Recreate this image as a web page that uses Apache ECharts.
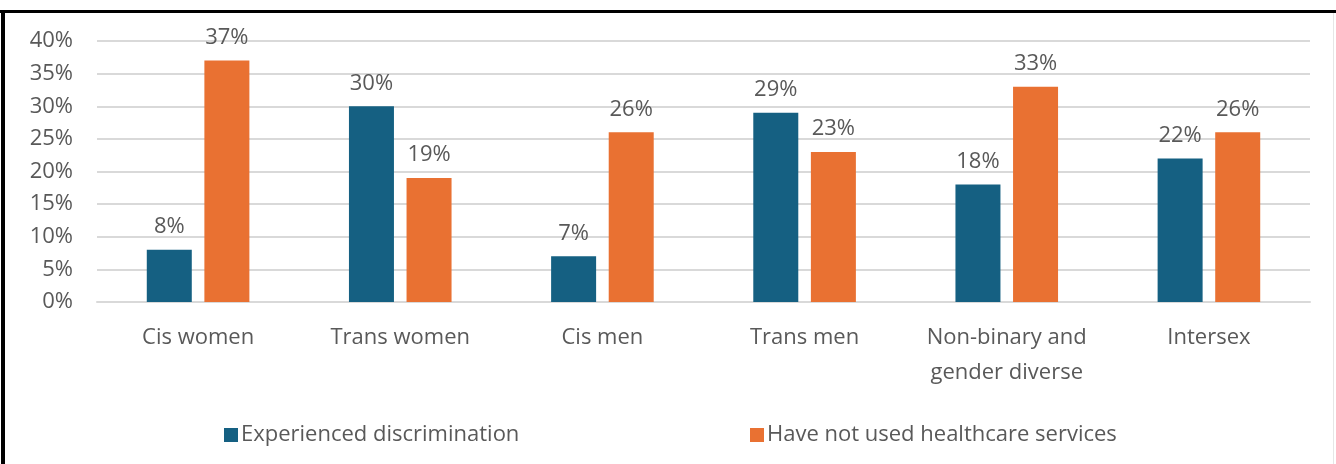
<!DOCTYPE html>
<html>
<head>
<meta charset="utf-8">
<script src="https://cdn.jsdelivr.net/npm/echarts@6/dist/echarts.min.js"></script>
<style>
html,body{margin:0;padding:0;background:#fff;}
#c{width:1336px;height:464px;}
</style>
</head>
<body>
<div id="c"></div>
<script>
const categories = ['Cis women', 'Trans women', 'Cis men', 'Trans men', 'Non-binary and\ngender diverse', 'Intersex'];
const seriesNames = ['Experienced discrimination', 'Have not used healthcare services'];
const experienced = [8, 30, 7, 29, 18, 22];
const notUsed = [37, 19, 26, 23, 33, 26];
const yMin = 0, yMax = 40, yStep = 5;

const FONT = 'Open Sans';
const TXT = '#595959';
const BLUE = '#156082';
const ORANGE = '#E97132';
const FS = 22;

const chart = echarts.init(document.getElementById('c'), null, {renderer: 'canvas'});
const labelCfg = {
  show: true, position: 'top', distance: 12,
  formatter: '{c}%', color: TXT, fontFamily: FONT, fontSize: FS
};
chart.setOption({
  backgroundColor: '#fff',
  animation: false,
  grid: {left: 97, right: 26, top: 41, bottom: 162, containLabel: false},
  legend: [
    {data: [seriesNames[0]], left: 219, top: 419, itemWidth: 14, itemHeight: 14, icon: 'rect', itemGap: 7,
     textStyle: {color: TXT, fontFamily: FONT, fontSize: FS, padding: [0,0,0,-2]}},
    {data: [seriesNames[1]], left: 745, top: 419, itemWidth: 14, itemHeight: 14, icon: 'rect', itemGap: 7,
     textStyle: {color: TXT, fontFamily: FONT, fontSize: FS, padding: [0,0,0,-2]}}
  ],
  xAxis: {
    type: 'category', data: categories,
    axisTick: {show: false},
    axisLine: {show: true, lineStyle: {color: '#D9D9D9', width: 2}},
    axisLabel: {color: TXT, fontFamily: FONT, fontSize: FS, margin: 18, lineHeight: 35, interval: 0}
  },
  yAxis: {
    type: 'value', min: yMin, max: yMax, interval: yStep,
    axisLine: {show: false}, axisTick: {show: false},
    splitLine: {lineStyle: {color: '#D9D9D9', width: 2}},
    axisLabel: {formatter: '{value}%', color: TXT, fontFamily: FONT, fontSize: FS, margin: 24}
  },
  series: [
    {name: seriesNames[0], type: 'bar', data: experienced, barWidth: 45, barGap: '28%',
     itemStyle: {color: BLUE}, label: labelCfg},
    {name: seriesNames[1], type: 'bar', data: notUsed, barWidth: 45, barGap: '28%',
     itemStyle: {color: ORANGE}, label: labelCfg}
  ],
  graphic: [
    {type: 'line', shape: {x1: 0, y1: 11.5, x2: 1336, y2: 11.5}, style: {stroke: '#000', lineWidth: 3}},
    {type: 'line', shape: {x1: 3, y1: 10, x2: 3, y2: 464}, style: {stroke: '#000', lineWidth: 4}},
    {type: 'line', shape: {x1: 1333.5, y1: 13, x2: 1333.5, y2: 464}, style: {stroke: '#e6e6e6', lineWidth: 1}}
  ]
});
</script>
</body>
</html>
